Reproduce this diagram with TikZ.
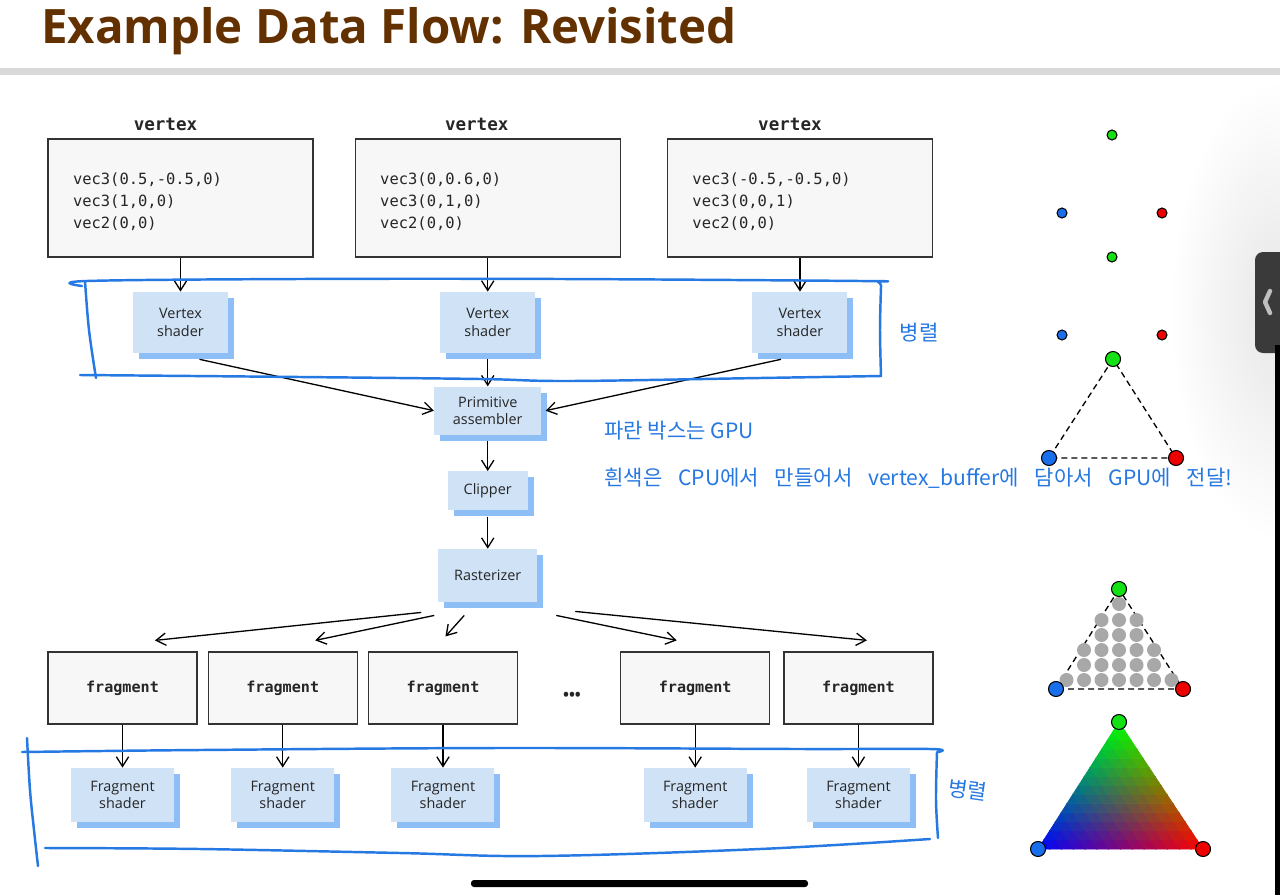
\documentclass[tikz,border=0pt]{standalone}
\usepackage{fontspec}
\setmainfont{Open Sans}
\setmonofont{DejaVu Sans Mono}
\newfontfamily\krfont{Noto Sans CJK KR}
\usepackage{tikz}
\usetikzlibrary{positioning,arrows.meta,shadows}
\definecolor{titlebrown}{RGB}{99,49,0}
\definecolor{boxgray}{RGB}{247,247,247}
\definecolor{edgegray}{RGB}{51,51,51}
\definecolor{gpublue}{RGB}{207,226,246}
\definecolor{gpushadow}{RGB}{142,190,246}
\definecolor{pen}{RGB}{38,120,226}
\definecolor{ptgreen}{RGB}{20,225,20}
\definecolor{ptblue}{RGB}{25,110,235}
\definecolor{ptred}{RGB}{236,0,0}
\definecolor{pixgray}{RGB}{168,168,168}
\definecolor{tabgray}{RGB}{58,58,58}
\newlength{\pxu}
\setlength{\pxu}{0.02cm}

\begin{document}
\begin{tikzpicture}[x=0.02cm, y=-0.02cm,
  every node/.style={text=black!85},
  vbox/.style={draw=edgegray, fill=boxgray, line width=0.7pt, inner sep=0pt,
    minimum width=265\pxu, minimum height=118\pxu, text width=215\pxu, align=left,
    font=\ttfamily\fontsize{8.8}{12.5}\selectfont,
    execute at begin node={\rule{0pt}{11pt}}},
  vlabel/.style={font=\ttfamily\bfseries\fontsize{10}{12}\selectfont},
  gpu/.style={fill=gpublue, align=center, inner sep=0pt,
    font=\fontsize{8.2}{9.8}\selectfont,
    drop shadow={shadow xshift=6\pxu, shadow yshift=-6\pxu, fill=gpushadow, opacity=1}},
  fbox/.style={draw=edgegray, fill=boxgray, line width=0.7pt,
    minimum width=149\pxu, minimum height=72\pxu,
    font=\ttfamily\bfseries\fontsize{8.6}{10}\selectfont},
  arr/.style={-{Straight Barb[length=5.5pt,width=7pt]}, line width=0.75pt},
  hand/.style={pen, line width=1.4pt, line cap=round, line join=round},
  note/.style={text=pen, font=\krfont\fontsize{12}{14}\selectfont},
  pt/.style={circle, draw=black, line width=0.6pt, inner sep=0pt, minimum size=10\pxu},
  bigpt/.style={pt, minimum size=15\pxu},
  pix/.style={circle, fill=pixgray, inner sep=0pt, minimum size=14\pxu},
  tridash/.style={black, line width=0.75pt, dash pattern=on 3.4pt off 2.3pt}]

  % page
  \fill[white] (0,0) rectangle (1280,895);
  \useasboundingbox (0,0) rectangle (1280,895);
  \shade[inner color=black!10, outer color=white] (1280,310) ellipse (2.2cm and 4.6cm);
  \node[anchor=base west, text=titlebrown, font=\bfseries\fontsize{27}{30}\selectfont]
    (title) at (35,44) {Example Data Flow: Revisited};
  \fill[black!15] (0,68) rectangle (1280,75);

  % vertex data (CPU)
  \node[vbox] (vtx1) at (180.5,198) {vec3(0.5,-0.5,0)\\vec3(1,0,0)\\vec2(0,0)};
  \node[vbox, right=41\pxu of vtx1] (vtx2) {vec3(0,0.6,0)\\vec3(0,1,0)\\vec2(0,0)};
  \node[vbox, right=46\pxu of vtx2] (vtx3) {vec3(-0.5,-0.5,0)\\vec3(0,0,1)\\vec2(0,0)};
  \node[vlabel] (lab1) at ([xshift=-15\pxu, yshift=14\pxu]vtx1.north) {vertex};
  \node[vlabel] (lab2) at ([xshift=-11\pxu, yshift=14\pxu]vtx2.north) {vertex};
  \node[vlabel] (lab3) at ([xshift=-10\pxu, yshift=14\pxu]vtx3.north) {vertex};

  % GPU stages
  \node[gpu, minimum width=95\pxu, minimum height=61\pxu, below=34\pxu of vtx1] (vs1) {Vertex\\shader};
  \node[gpu, minimum width=95\pxu, minimum height=61\pxu, below=34\pxu of vtx2] (vs2) {Vertex\\shader};
  \node[gpu, minimum width=95\pxu, minimum height=61\pxu, below=34\pxu of vtx3] (vs3) {Vertex\\shader};
  \node[gpu, minimum width=107\pxu, minimum height=48\pxu, below=33\pxu of vs2] (prim) {Primitive\\assembler};
  \node[gpu, minimum width=80\pxu, minimum height=39\pxu, below=36\pxu of prim] (clip) {Clipper};
  \node[gpu, minimum width=99\pxu, minimum height=53\pxu, below=38\pxu of clip] (rast) {Rasterizer};

  \draw[arr] (vtx1) -- (vs1);
  \draw[arr] (vtx2) -- (vs2);
  \draw[arr] (vtx3) -- (vs3);
  \draw[arr] ([shift={(19,6)}]vs1.south) -- (prim.west);
  \draw[arr] ([shift={(0,6)}]vs2.south) -- (prim.north);
  \draw[arr] ([shift={(-19,6)}]vs3.south) -- ([xshift=4\pxu]prim.east);
  \draw[arr] ([shift={(0,6)}]prim.south) -- (clip.north);
  \draw[arr] ([shift={(0,6)}]clip.south) -- (rast.north);

  % fragments
  \node[fbox] (frag1) at (122.5,688) {fragment};
  \node[fbox, right=10\pxu of frag1] (frag2) {fragment};
  \node[fbox, right=10\pxu of frag2] (frag3) {fragment};
  \node[fbox, right=102\pxu of frag3] (frag4) {fragment};
  \node[fbox, right=13\pxu of frag4] (frag5) {fragment};
  \node[font=\bfseries\fontsize{9}{9}\selectfont] (more) at (572,696) {•••};

  \draw[arr] ([shift={(-66.5,10)}]rast.south) -- ([shift={(32.5,-11)}]frag1.north);
  \draw[arr] ([shift={(-53.5,13)}]rast.south) -- ([shift={(32.5,-11)}]frag2.north);
  \draw[arr] ([shift={(-23.5,13)}]rast.south) -- ([shift={(2.5,-15)}]frag3.north);
  \draw[arr] ([shift={(68.5,13)}]rast.south) -- ([shift={(-18.5,-11)}]frag4.north);
  \draw[arr] ([shift={(87.5,9)}]rast.south) -- ([shift={(8.5,-11)}]frag5.north);

  \foreach \k in {1,...,5} {
    \node[gpu, minimum width=103\pxu, minimum height=54\pxu, below=43\pxu of frag\k] (fs\k) {Fragment\\shader};
    \draw[arr] (frag\k) -- (fs\k);
  }

  % handwritten marks
  \draw[hand] plot[smooth, tension=0.6] coordinates {(82,286) (87,281) (300,279) (560,279) (860,281) (878,282) (881,287)};
  \draw[hand] plot[smooth, tension=0.6] coordinates {(881,287) (880,330) (881,376)};
  \draw[hand] plot[smooth, tension=0.6] coordinates {(80,375) (300,377) (480,379) (570,381) (760,378) (881,376)};
  \draw[hand] plot[smooth, tension=0.6] coordinates {(85,281) (89,330) (96,378)};
  \draw[hand] plot[smooth, tension=0.6] coordinates {(22,752) (200,750) (500,748) (800,749) (930,749) (938,752)};
  \draw[hand] plot[smooth, tension=0.6] coordinates {(937,752) (936,800) (938,838)};
  \draw[hand] plot[smooth, tension=0.6] coordinates {(45,848) (200,849) (400,853) (540,856) (760,849) (930,839)};
  \draw[hand] plot[smooth, tension=0.6] coordinates {(27,738) (30,790) (34,830) (38,866)};
  \node[note] (par1) at (919,333) {병렬};
  \node[note, rotate=-8] (par2) at (968,790) {병렬};
  \node[note, anchor=west] (note1) at (598,431) {파란 박스는 GPU};
  \node[note, anchor=west] (note2) at (598,478)
    {\spaceskip=9pt plus 1pt 흰색은 CPU에서 만들어서 vertex\_buffer에 담아서 GPU에 전달!};

  % vertices
  \node[pt, fill=ptgreen] (g1) at (1112,135) {};
  \node[pt, fill=ptblue] (b1) at (1062,213) {};
  \node[pt, fill=ptred] (r1) at (1162,213) {};
  \node[pt, fill=ptgreen] (g2) at (1112,257) {};
  \node[pt, fill=ptblue] (b2) at (1062,335) {};
  \node[pt, fill=ptred] (r2) at (1162,335) {};

  % primitive
  \coordinate (g3) at (1113,359);
  \coordinate (b3) at (1049,458);
  \coordinate (r3) at (1176,458);
  \draw[tridash] (g3) -- (b3) -- (r3) -- cycle;
  \node[bigpt, fill=ptgreen] (g3dot) at (g3) {};
  \node[bigpt, fill=ptblue] (b3dot) at (b3) {};
  \node[bigpt, fill=ptred] (r3dot) at (r3) {};

  % rasterized
  \coordinate (g4) at (1119,589);
  \coordinate (b4) at (1056,689);
  \coordinate (r4) at (1183,689);
  \draw[tridash] (g4) -- (b4) -- (r4) -- cycle;
  \foreach \row/\y/\half in {1/604/0, 2/620/1, 3/635/1, 4/650/2, 5/665/2, 6/680/3} {
    \foreach \k in {-\half,...,\half}
      \node[pix] (px\row\k) at ({1119+17.5*\k},\y) {};
  }
  \node[bigpt, fill=ptgreen] (g4dot) at (g4) {};
  \node[bigpt, fill=ptblue] (b4dot) at (b4) {};
  \node[bigpt, fill=ptred] (r4dot) at (r4) {};

  % shaded
  \foreach \i in {0,...,13} {
    \pgfmathtruncatemacro\jmax{13-\i}
    \foreach \j in {0,...,\jmax} {
      \pgfmathsetmacro\wr{(\i+1/3)/14}
      \pgfmathsetmacro\wg{(\j+1/3)/14}
      \pgfmathsetmacro\wb{max(0,1-\wr-\wg)}
      \definecolor{mix}{rgb}{\wr,\wg,\wb}
      \fill[mix, draw=mix, line width=0.4pt]
        ({1038+(165*\i+81*\j)/14},{849-127*\j/14}) --
        ({1038+(165*(\i+1)+81*\j)/14},{849-127*\j/14}) --
        ({1038+(165*\i+81*(\j+1))/14},{849-127*(\j+1)/14}) -- cycle;
      \ifnum\numexpr\i+\j\relax<13
        \pgfmathsetmacro\wr{(\i+2/3)/14}
        \pgfmathsetmacro\wg{(\j+2/3)/14}
        \pgfmathsetmacro\wb{max(0,1-\wr-\wg)}
        \definecolor{mix}{rgb}{\wr,\wg,\wb}
        \fill[mix, draw=mix, line width=0.4pt]
          ({1038+(165*(\i+1)+81*\j)/14},{849-127*\j/14}) --
          ({1038+(165*(\i+1)+81*(\j+1))/14},{849-127*(\j+1)/14}) --
          ({1038+(165*\i+81*(\j+1))/14},{849-127*(\j+1)/14}) -- cycle;
      \fi
    }
  }
  \node[bigpt, fill=ptgreen] (g5dot) at (1119,722) {};
  \node[bigpt, fill=ptblue] (b5dot) at (1038,849) {};
  \node[bigpt, fill=ptred] (r5dot) at (1203,849) {};

  % screen chrome
  \fill[tabgray, rounded corners=8\pxu] (1255,252) rectangle (1295,353);
  \fill[black] (1275,345) rectangle (1280,895);
  \draw[black!25, line width=2.5pt, line cap=round, line join=round] (1270,291) -- (1265,302) -- (1270,313);
  \fill[black, rounded corners=3\pxu] (471,880) rectangle (808,887);
\end{tikzpicture}
\end{document}
